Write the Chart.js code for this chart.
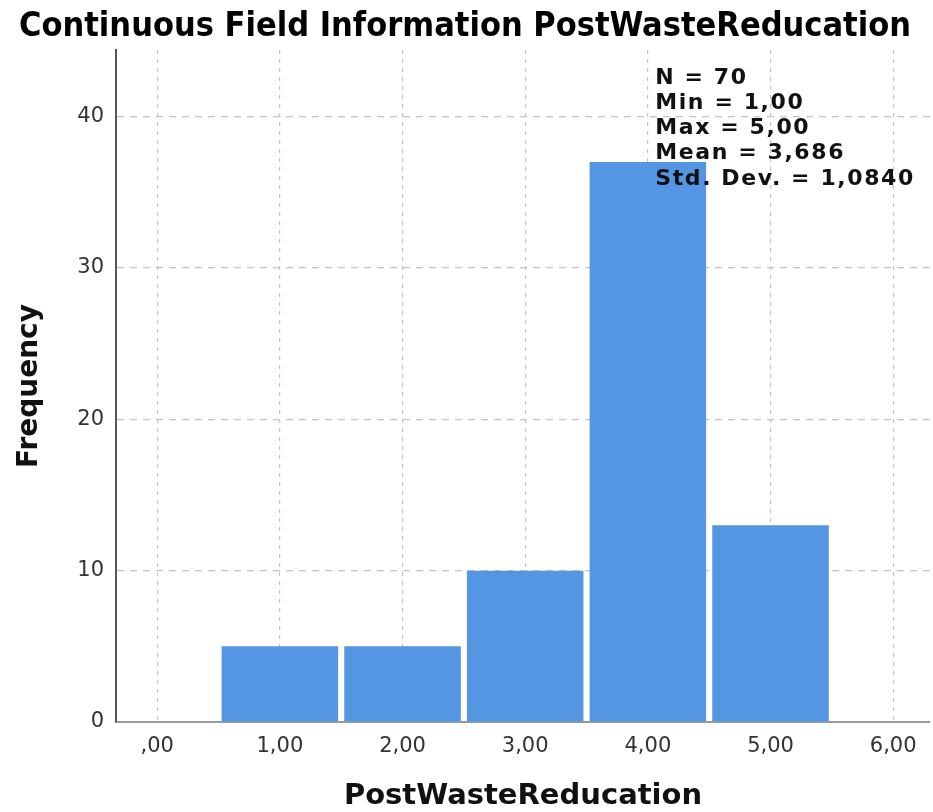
<!DOCTYPE html>
<html>
<head>
<meta charset="utf-8">
<script src="https://cdn.jsdelivr.net/npm/chart.js@4"></script>
<style>
html,body{margin:0;padding:0;background:#fff;}
#wrap{width:933px;height:812px;position:relative;}
</style>
</head>
<body>
<div id="wrap"><canvas id="c" width="933" height="812"></canvas></div>
<script>
const binCenters = [1, 2, 3, 4, 5];
const frequencies = [5, 5, 10, 37, 13];
const xTickValues = [0, 1, 2, 3, 4, 5, 6];
const xTickLabels = [',00', '1,00', '2,00', '3,00', '4,00', '5,00', '6,00'];
const yTickValues = [0, 10, 20, 30, 40];
const statsLines = ['N = 70', 'Min = 1,00', 'Max = 5,00', 'Mean = 3,686', 'Std. Dev. = 1,0840'];
const chartTitle = 'Continuous Field Information PostWasteReducation';
const xTitle = 'PostWasteReducation';
const yTitle = 'Frequency';

const statsPlugin = {
  id: 'stats',
  afterDatasetsDraw(chart) {
    const ctx = chart.ctx;
    const xs = chart.scales.x;
    ctx.save();
    ctx.font = 'bold 22px "DejaVu Sans"';
    ctx.letterSpacing = '1.6px';
    ctx.fillStyle = '#111';
    ctx.textBaseline = 'middle';
    ctx.textAlign = 'left';
    const x0 = xs.getPixelForValue(4.06);
    const y0 = chart.chartArea.top + 28;
    statsLines.forEach((s, i) => ctx.fillText(s, x0, y0 + i * 25.2));
    ctx.restore();
  }
};

new Chart(document.getElementById('c'), {
  type: 'bar',
  data: {
    datasets: [{
      data: binCenters.map((x, i) => ({x: x, y: frequencies[i]})),
      backgroundColor: 'rgb(85,150,227)',
      borderWidth: 0,
      barPercentage: 0.95,
      categoryPercentage: 1.0
    }]
  },
  options: {
    responsive: false,
    animation: false,
    layout: {padding: {left: 0, right: 3, top: 0, bottom: 0}},
    plugins: {
      legend: {display: false},
      tooltip: {enabled: false},
      title: {
        display: true,
        text: chartTitle,
        color: '#000',
        font: {family: '"DejaVu Sans Condensed", "DejaVu Sans"', size: 34, weight: 'bold', lineHeight: 1.1},
        padding: {top: 8, bottom: 4.6}
      }
    },
    scales: {
      x: {
        type: 'linear',
        offset: false,
        min: -0.336,
        max: 6.3,
        afterFit(s) { s.height = 90; },
        afterBuildTicks(s) { s.ticks = xTickValues.map(v => ({value: v})); },
        ticks: {
          color: '#333',
          font: {family: '"DejaVu Sans"', size: 21},
          padding: 12,
          maxRotation: 0,
          callback: (v) => { const i = xTickValues.indexOf(v); return i >= 0 ? xTickLabels[i] : ''; }
        },
        grid: {
          offset: false,
          color: '#c4c4c4',
          lineWidth: 1.2,
          drawTicks: false
        },
        border: {display: true, color: '#9a9a9a', width: 2, dash: [4, 5]},
        title: {
          display: true,
          text: xTitle,
          color: '#111',
          font: {family: '"DejaVu Sans"', size: 29, weight: 'bold', lineHeight: 1.1},
          padding: {top: 0, bottom: 0}
        }
      },
      y: {
        type: 'linear',
        min: 0,
        max: 44.4,
        afterFit(s) { s.width = 116; },
        afterBuildTicks(s) { s.ticks = yTickValues.map(v => ({value: v})); },
        ticks: {
          color: '#333',
          font: {family: '"DejaVu Sans"', size: 21},
          padding: 12
        },
        grid: {
          color: (c) => c.tick && c.tick.value === 0 ? 'rgba(0,0,0,0)' : '#c4c4c4',
          lineWidth: 1.2,
          drawTicks: false
        },
        border: {display: true, color: '#555', width: 2, dash: [7, 6]},
        title: {
          display: true,
          text: yTitle,
          color: '#111',
          font: {family: '"DejaVu Sans"', size: 28, weight: 'bold', lineHeight: 1.1},
          padding: {top: 14, bottom: 0}
        }
      }
    }
  },
  plugins: [statsPlugin]
});
</script>
</body>
</html>
